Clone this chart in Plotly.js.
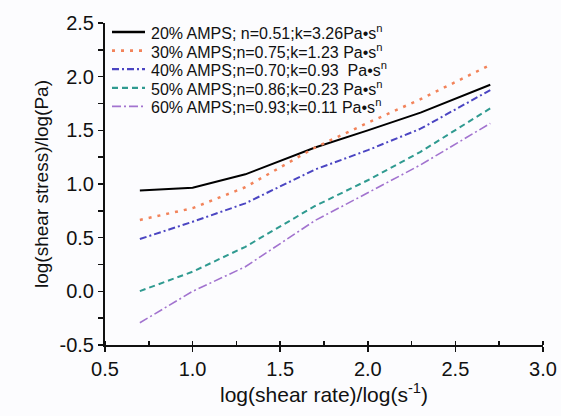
<!DOCTYPE html>
<html>
<head>
<meta charset="utf-8">
<script src="https://cdn.plot.ly/plotly-3.0.1.min.js"></script>
<style>html,body{margin:0;padding:0;background:#fcfcfe;}</style>
</head>
<body>
<div id="chart" style="width:561px;height:416px;"></div>
<script>
var logShearRate = [0.699, 1.0, 1.301, 1.699, 2.0, 2.301, 2.699];
var names = [
  "20% AMPS; n=0.51;k=3.26Pa•s<sup>n</sup>",
  "30% AMPS;n=0.75;k=1.23 Pa•s<sup>n</sup>",
  "40% AMPS;n=0.70;k=0.93  Pa•s<sup>n</sup>",
  "50% AMPS;n=0.86;k=0.23 Pa•s<sup>n</sup>",
  "60% AMPS;n=0.93;k=0.11 Pa•s<sup>n</sup>"
];
var amps20 = [0.94, 0.965, 1.09, 1.34, 1.50, 1.665, 1.925];
var amps30 = [0.665, 0.775, 0.97, 1.34, 1.57, 1.79, 2.11];
var amps40 = [0.487, 0.648, 0.82, 1.135, 1.315, 1.515, 1.875];
var amps50 = [0.002, 0.183, 0.415, 0.795, 1.035, 1.30, 1.705];
var amps60 = [-0.293, 0.0, 0.229, 0.66, 0.918, 1.178, 1.565];

var xTickVals = [0.5, 1.0, 1.5, 2.0, 2.5, 3.0];
var xTickText = ["0.5", "1.0", "1.5", "2.0", "2.5", "3.0"];
var yTickVals = [-0.5, 0.0, 0.5, 1.0, 1.5, 2.0, 2.5];
var yTickText = ["-0.5", "0.0", "0.5", "1.0", "1.5", "2.0", "2.5"];

var series = [amps20, amps30, amps40, amps50, amps60];
var colors = ["#000000", "#f2835a", "#4b45c2", "#2f9a90", "#a273cf"];
var dashes = ["solid", "3px,6px", "7px,3px,2px,3px", "6px,4px", "9px,3px,2px,3px"];
var widths = [2, 2.5, 2, 2, 1.6];

var traces = series.map(function (ys, i) {
  return {
    x: logShearRate, y: ys, name: names[i], mode: "lines", showlegend: false,
    line: {color: colors[i], dash: dashes[i], width: widths[i]}
  };
});

// Compact legend (row spacing tighter than Plotly's built-in legend allows)
var plotTop = 23, plotH = 322, plotL = 105, plotW = 438;
function py(p) { return 1 - (p - plotTop) / plotH; }
function px(p) { return (p - plotL) / plotW; }
var legendRow0 = 32, legendStep = 18.6;
var shapes = [], annotations = [];
names.forEach(function (nm, i) {
  var yy = py(legendRow0 + i * legendStep);
  shapes.push({type: "line", xref: "paper", yref: "paper",
    x0: px(112), x1: px(145), y0: yy, y1: yy,
    line: {color: colors[i], dash: dashes[i], width: widths[i] + 0.3}});
  annotations.push({xref: "paper", yref: "paper", x: px(149), y: yy,
    xanchor: "left", yanchor: "middle", showarrow: false, text: nm,
    font: {size: 16, color: "#111"}});
});

var layout = {
  width: 561, height: 416,
  paper_bgcolor: "#fcfcfe", plot_bgcolor: "#fcfcfe",
  margin: {l: 105, r: 18, t: 23, b: 71},
  font: {family: "Liberation Sans, Arial, sans-serif", color: "#111"},
  showlegend: false,
  shapes: shapes,
  annotations: annotations,
  xaxis: {
    range: [0.5, 3.0], tickvals: xTickVals, ticktext: xTickText,
    showline: true, linecolor: "#111", linewidth: 2,
    ticks: "outside", ticklen: 5, tickwidth: 1.5, tickcolor: "#111",
    minor: {dtick: 0.25, ticks: "inside", ticklen: 4, tickwidth: 1.5, tickcolor: "#111"},
    showgrid: false, zeroline: false,
    tickfont: {size: 20},
    title: {text: "log(shear rate)/log(s<sup>-1</sup>)", font: {size: 21}, standoff: 8}
  },
  yaxis: {
    range: [-0.5, 2.5], tickvals: yTickVals, ticktext: yTickText,
    showline: true, linecolor: "#111", linewidth: 2,
    ticks: "outside", ticklen: 5, tickwidth: 1.5, tickcolor: "#111",
    minor: {dtick: 0.25, ticks: "outside", ticklen: 5, tickwidth: 1.5, tickcolor: "#111"},
    showgrid: false, zeroline: false,
    tickfont: {size: 20},
    title: {text: "log(shear stress)/log(Pa)", font: {size: 19}, standoff: 6}
  }
};

Plotly.newPlot("chart", traces, layout, {displayModeBar: false, staticPlot: true});
</script>
</body>
</html>
